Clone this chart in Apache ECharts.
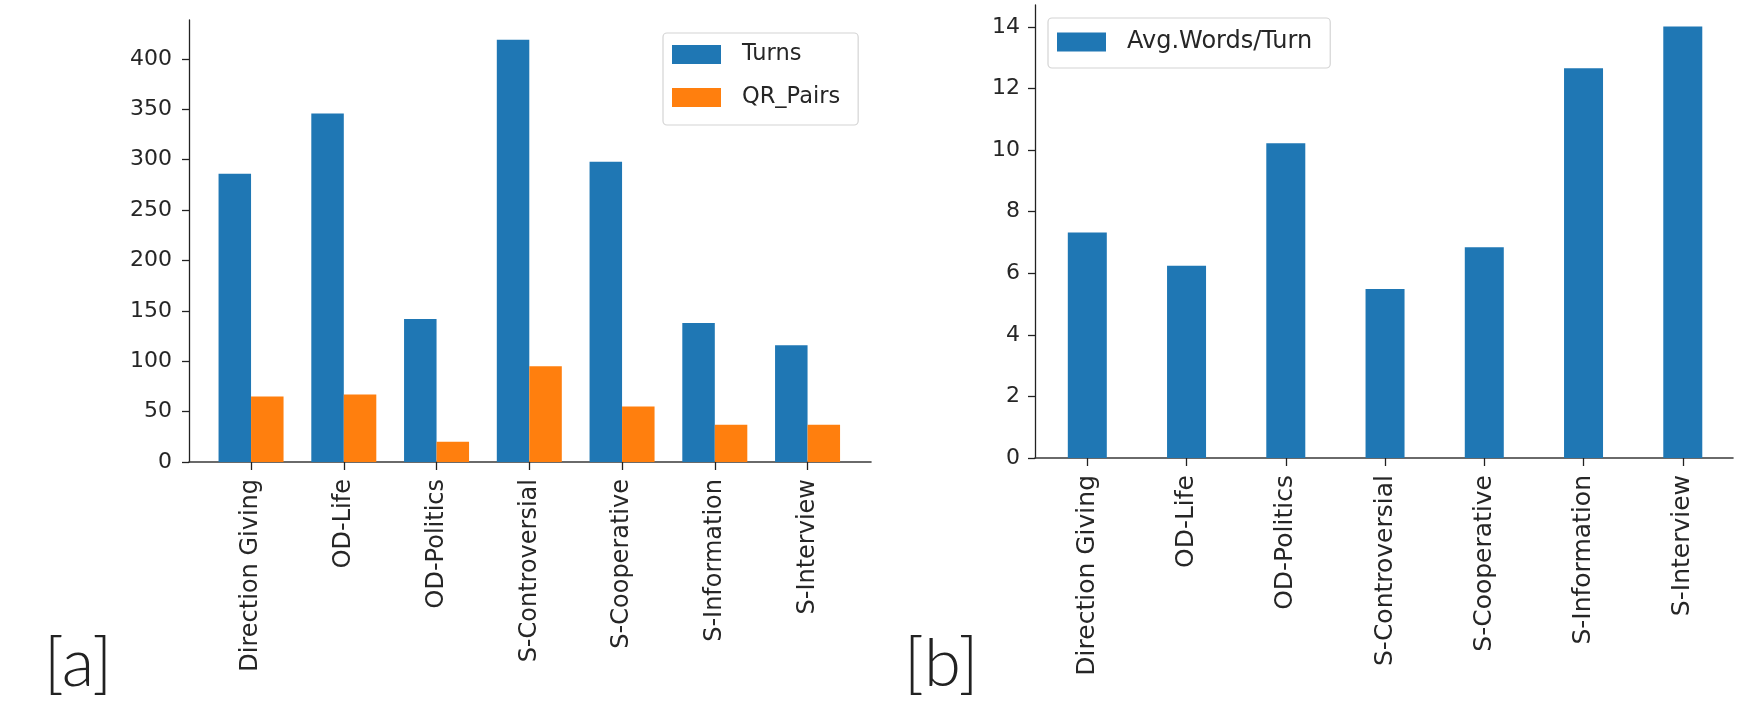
<!DOCTYPE html>
<html>
<head>
<meta charset="utf-8">
<script src="https://cdn.jsdelivr.net/npm/echarts@6/dist/echarts.min.js"></script>
<style>
  html, body { margin: 0; padding: 0; background: #ffffff; }
  #chart { width: 1763px; height: 707px; }
</style>
</head>
<body>
<div id="chart"></div>
<script>
// Dialogue corpus statistics per category
const categories = ['Direction Giving', 'OD-Life', 'OD-Politics', 'S-Controversial', 'S-Cooperative', 'S-Information', 'S-Interview'];
const turns = [286, 346, 142, 419, 298, 138, 116];
const qrPairs = [65, 67, 20, 95, 55, 37, 37];
const avgWordsPerTurn = [7.32, 6.24, 10.22, 5.49, 6.84, 12.66, 14.01];

// Tick positions
const countTicks = [0, 50, 100, 150, 200, 250, 300, 350, 400];
const wordTicks = [0, 2, 4, 6, 8, 10, 12, 14];
const categoryTicks = categories.map((_, i) => i);

const BLUE = '#1f77b4';
const ORANGE = '#ff7f0e';
const FONT = 'DejaVu Sans';
const TEXT = '#262626';

const chart = echarts.init(document.getElementById('chart'), null, { renderer: 'canvas' });

function toPoints(values) {
  return values.map((v, i) => [i, v]);
}

function categoryAxis(gridIndex, min, max, fontSize) {
  return {
    type: 'value',
    gridIndex,
    min,
    max,
    axisLine: { show: true, onZero: false, lineStyle: { color: '#3a3a3a', width: 1.6 } },
    axisTick: { show: true, length: 8, customValues: categoryTicks, lineStyle: { color: '#222', width: 1.3 } },
    splitLine: { show: false },
    axisLabel: {
      customValues: categoryTicks,
      rotate: 90,
      margin: 17,
      fontFamily: FONT,
      fontSize,
      color: TEXT,
      formatter: (v) => categories[Math.round(v)]
    }
  };
}

function valueAxis(gridIndex, max, ticks, margin) {
  return {
    type: 'value',
    gridIndex,
    min: 0,
    max,
    axisLine: { show: true, onZero: false, lineStyle: { color: '#222', width: 1.3 } },
    axisTick: { show: true, length: 7, customValues: ticks, lineStyle: { color: '#222', width: 1.3 } },
    splitLine: { show: false },
    axisLabel: {
      customValues: ticks,
      margin,
      fontFamily: FONT,
      fontSize: 22,
      color: TEXT,
      formatter: (v) => String(v)
    }
  };
}

const legendBase = {
  orient: 'vertical',
  icon: 'rect',
  itemWidth: 49,
  itemHeight: 19,
  itemGap: 20,
  backgroundColor: 'rgba(255,255,255,0.85)',
  borderColor: '#d4d4d4',
  borderWidth: 1.2,
  borderRadius: 4
};

const option = {
  backgroundColor: '#ffffff',
  animation: false,
  grid: [
    { left: 189, top: 20, width: 682, height: 442 },
    { left: 1035, top: 5, width: 698, height: 453 }
  ],
  xAxis: [
    categoryAxis(0, -0.669, 6.684, 24),
    categoryAxis(1, -0.527, 6.506, 25)
  ],
  yAxis: [
    valueAxis(0, 438.7, countTicks, 17),
    valueAxis(1, 14.71, wordTicks, 15)
  ],
  legend: [
    Object.assign({}, legendBase, {
      data: ['Turns', 'QR_Pairs'],
      left: 663,
      top: 33,
      padding: [10, 18, 16, 9],
      textStyle: { fontFamily: FONT, fontSize: 22.5, color: TEXT, lineHeight: 19, padding: [0, 0, 0, 16] }
    }),
    Object.assign({}, legendBase, {
      data: ['Avg.Words/Turn'],
      left: 1048,
      top: 18,
      padding: [12, 18, 14, 9],
      textStyle: { fontFamily: FONT, fontSize: 24, color: TEXT, lineHeight: 19, padding: [0, 0, 0, 16] }
    })
  ],
  series: [
    {
      name: 'Turns',
      type: 'bar',
      xAxisIndex: 0,
      yAxisIndex: 0,
      data: toPoints(turns),
      barWidth: 32.5,
      barGap: '0%',
      itemStyle: { color: BLUE }
    },
    {
      name: 'QR_Pairs',
      type: 'bar',
      xAxisIndex: 0,
      yAxisIndex: 0,
      data: toPoints(qrPairs),
      barWidth: 32.5,
      barGap: '0%',
      itemStyle: { color: ORANGE }
    },
    {
      name: 'Avg.Words/Turn',
      type: 'bar',
      xAxisIndex: 1,
      yAxisIndex: 1,
      data: toPoints(avgWordsPerTurn),
      barWidth: 39,
      itemStyle: { color: BLUE }
    }
  ],
  graphic: [
    {
      type: 'text',
      left: 44,
      top: 631,
      style: { text: '[a]', font: '300 67px Lato, "Open Sans", sans-serif', fill: '#222' }
    },
    {
      type: 'text',
      left: 904,
      top: 631,
      style: { text: '[b]', font: '300 67px Lato, "Open Sans", sans-serif', fill: '#222' }
    }
  ]
};

chart.setOption(option);
</script>
</body>
</html>
